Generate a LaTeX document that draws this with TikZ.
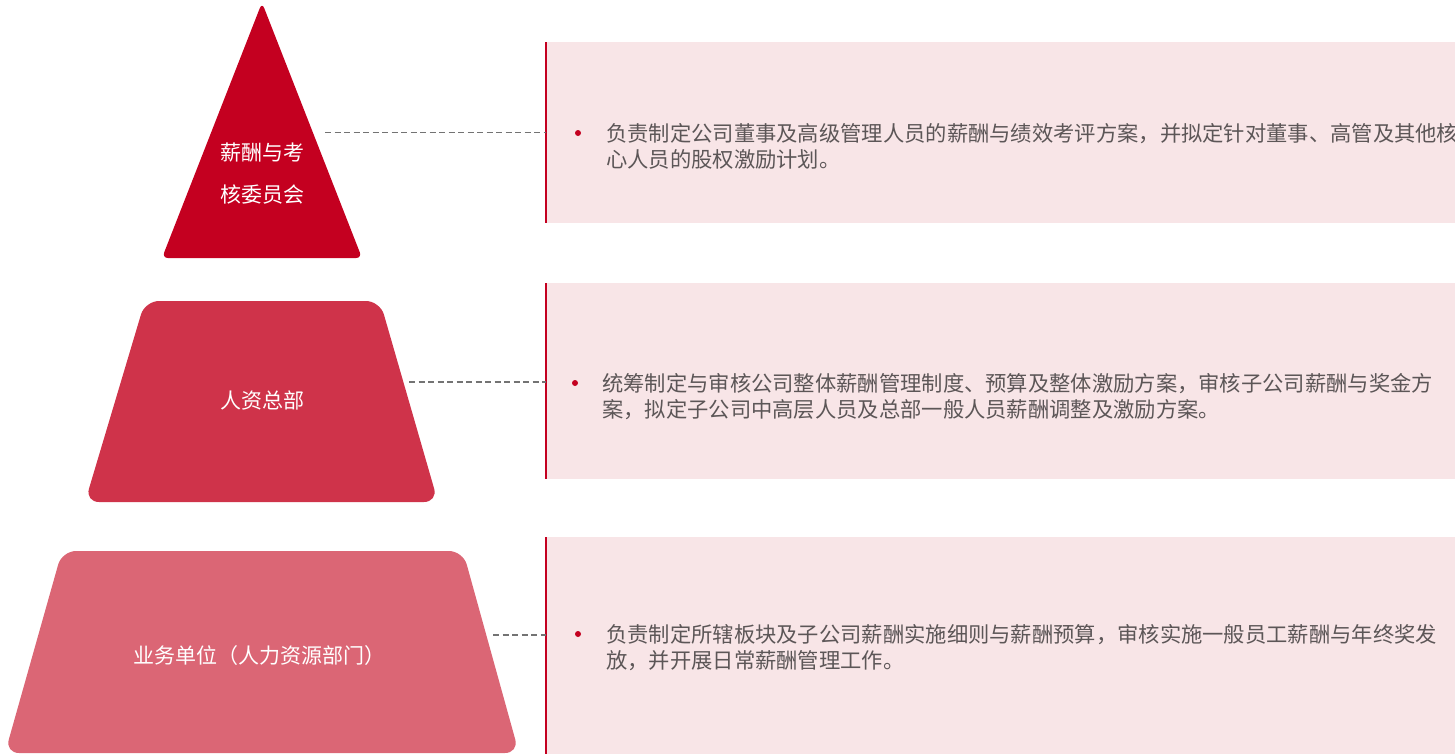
\documentclass[tikz,border=0pt]{standalone}
\usepackage{fontspec}
\newfontfamily\cjk{Noto Sans CJK SC}
\definecolor{cA}{RGB}{196,0,32}
\definecolor{cB}{RGB}{207,51,74}
\definecolor{cC}{RGB}{219,102,117}
\definecolor{panelfill}{RGB}{248,229,231}
\definecolor{ptxt}{RGB}{92,86,87}
\definecolor{dashgray}{RGB}{115,115,115}
\tikzset{
  shapetxt/.style={inner sep=0pt, text=white, font=\cjk\fontsize{21pt}{26pt}\selectfont, anchor=base},
  ptext/.style={inner sep=0pt, text=ptxt, font=\cjk\fontsize{21.3pt}{26pt}\selectfont, anchor=base west},
  panel/.style={fill=panelfill, draw=none, inner sep=0pt, anchor=north west},
  redline/.style={draw=cA, line width=2.4pt},
  conn/.style={draw=dashgray, line width=1.8pt, dash pattern=on 6pt off 3.5pt},
  bullet/.style={circle, fill=cA, inner sep=0pt, minimum size=6pt}
}
\begin{document}
\begin{tikzpicture}[x=1pt,y=-1pt]
\useasboundingbox (0,0) rectangle (1455,753);
% panels
\node[panel, minimum width=912pt, minimum height=181pt] (p1) at (546,42) {};
\node[panel, minimum width=912pt, minimum height=196pt] (p2) at (546,283) {};
\node[panel, minimum width=912pt, minimum height=220pt] (p3) at (546,537) {};
\draw[redline] (p1.north west) -- (p1.south west);
\draw[redline] (p2.north west) -- (p2.south west);
\draw[redline] (p3.north west) -- (p3.south west);
% shapes
\fill[cA, rounded corners=6pt] (262,2.5) -- (362,258) -- (162,258) -- cycle;
\fill[cB, rounded corners=14pt] (145,301) -- (380,301) -- (438,502) -- (85,502) -- cycle;
\fill[cC, rounded corners=14pt] (62,551) -- (463,551) -- (519,753) -- (5,753) -- cycle;
% shape labels
\node[shapetxt] (s1a) at (262,160) {薪酬与考};
\node[shapetxt] (s1b) at (262,202) {核委员会};
\node[shapetxt] (s2) at (262,408) {人资总部};
\node[shapetxt] (s3) at (259,663) {业务单位（人力资源部门）};
% connectors
\coordinate (c1) at (325,132.5);
\coordinate (c2) at (409,382);
\coordinate (c3) at (493,635);
\coordinate (e1) at (p1.north west |- c1);
\coordinate (e2) at (p2.north west |- c2);
\coordinate (e3) at (p3.north west |- c3);
\draw[conn] (c1) -- (e1);
\draw[conn] (c2) -- (e2);
\draw[conn] (c3) -- (e3);
% bullets and texts
\node[bullet] (b1) at (578,133) {};
\node[ptext] (t1a) at (606,141) {负责制定公司董事及高级管理人员的薪酬与绩效考评方案，并拟定针对董事、高管及其他核};
\node[ptext] (t1b) at (606,167) {心人员的股权激励计划。};
\node[bullet] (b2) at (575,383) {};
\node[ptext] (t2a) at (602,391) {统筹制定与审核公司整体薪酬管理制度、预算及整体激励方案，审核子公司薪酬与奖金方};
\node[ptext] (t2b) at (602,417) {案，拟定子公司中高层人员及总部一般人员薪酬调整及激励方案。};
\node[bullet] (b3) at (578,634) {};
\node[ptext] (t3a) at (606,642) {负责制定所辖板块及子公司薪酬实施细则与薪酬预算，审核实施一般员工薪酬与年终奖发};
\node[ptext] (t3b) at (606,668) {放，并开展日常薪酬管理工作。};
\end{tikzpicture}
\end{document}
